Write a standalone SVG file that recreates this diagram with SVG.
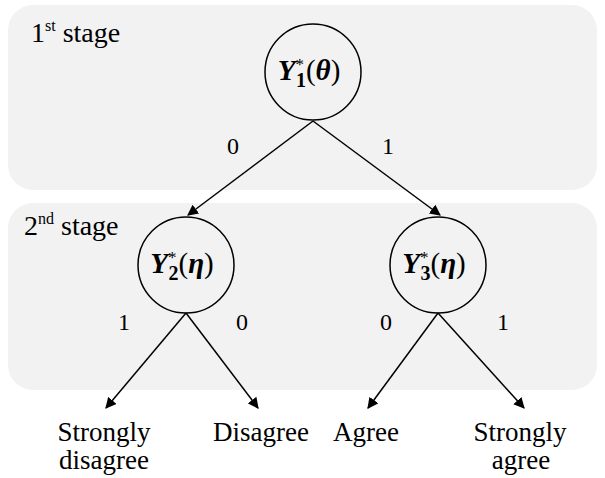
<svg xmlns="http://www.w3.org/2000/svg" width="605" height="478" viewBox="0 0 605 478">
<style>
.panel{fill:#f2f2f2;stroke:none}
.node{fill:none;stroke:#000;stroke-width:1.5}
.edge{stroke:#000;stroke-width:1.5;fill:none;marker-end:url(#arr)}
.t{font-family:'Liberation Serif','Times New Roman',serif;fill:#000}
.lab{font-size:24px}
.out{font-size:27px;text-anchor:middle}
.stage{font-size:28px}
.math{font-family:'Liberation Serif','Times New Roman',serif;font-weight:bold;font-size:29px;text-anchor:middle}
</style>
<defs>
<marker id="arr" viewBox="0 0 10 10" refX="9" refY="5" markerWidth="11" markerHeight="11" markerUnits="userSpaceOnUse" orient="auto">
<path d="M0,0 L10,5 L0,10 z" fill="#000"/>
</marker>
</defs>
<rect class="panel" x="8" y="5" width="589" height="185" rx="25"/>
<rect class="panel" x="8" y="203" width="589" height="187" rx="25"/>
<text class="t stage" x="31" y="42">1<tspan font-size="16" dy="-11">st</tspan><tspan dy="11"> stage</tspan></text>
<text class="t stage" x="24" y="235">2<tspan font-size="16" dy="-11">nd</tspan><tspan dy="11"> stage</tspan></text>
<g id="connectors">
<line class="edge" x1="313" y1="121" x2="188" y2="215"/>
<line class="edge" x1="313" y1="121" x2="440" y2="215"/>
<line class="edge" x1="186" y1="313" x2="106" y2="408"/>
<line class="edge" x1="186" y1="313" x2="258" y2="408"/>
<line class="edge" x1="438" y1="313" x2="368" y2="408"/>
<line class="edge" x1="438" y1="313" x2="524" y2="408"/>
<text class="t lab" x="227" y="154">0</text>
<text class="t lab" x="382" y="154">1</text>
<text class="t lab" x="118" y="330">1</text>
<text class="t lab" x="236" y="330">0</text>
<text class="t lab" x="380" y="330">0</text>
<text class="t lab" x="497" y="330">1</text>
</g>
<g id="n1">
<circle class="node" cx="313" cy="72" r="48"/>
<text class="math" x="309" y="80"><tspan font-style="italic">Y</tspan><tspan font-size="17" font-weight="normal" dy="-10">*</tspan><tspan font-size="20" dx="-8" dy="17">1</tspan><tspan font-weight="normal" dy="-7">(</tspan><tspan font-style="italic">θ</tspan><tspan font-weight="normal">)</tspan></text>
</g>
<g id="n2">
<circle class="node" cx="186" cy="265" r="48"/>
<text class="math" x="182" y="273"><tspan font-style="italic">Y</tspan><tspan font-size="17" font-weight="normal" dy="-10">*</tspan><tspan font-size="20" dx="-8" dy="17">2</tspan><tspan font-weight="normal" dy="-7">(</tspan><tspan font-style="italic">η</tspan><tspan font-weight="normal">)</tspan></text>
</g>
<g id="n3">
<circle class="node" cx="438" cy="265" r="48"/>
<text class="math" x="434" y="273"><tspan font-style="italic">Y</tspan><tspan font-size="17" font-weight="normal" dy="-10">*</tspan><tspan font-size="20" dx="-8" dy="17">3</tspan><tspan font-weight="normal" dy="-7">(</tspan><tspan font-style="italic">η</tspan><tspan font-weight="normal">)</tspan></text>
</g>
<g id="outcomes">
<text class="t out" x="104" y="441">Strongly</text>
<text class="t out" x="104" y="469">disagree</text>
<text class="t out" x="261" y="441">Disagree</text>
<text class="t out" x="366" y="441">Agree</text>
<text class="t out" x="520" y="441">Strongly</text>
<text class="t out" x="521" y="469">agree</text>
</g>
</svg>
